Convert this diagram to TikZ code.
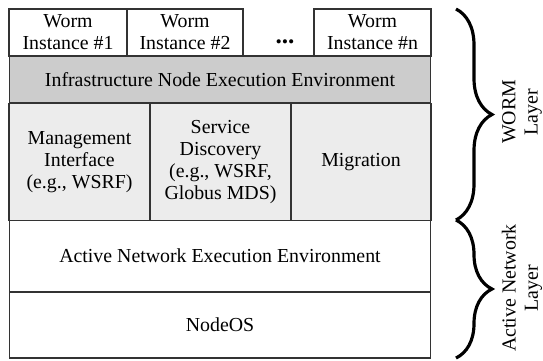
\documentclass[tikz,border=0pt]{standalone}
\usepackage{fontspec}
\setmainfont{Liberation Serif}
\usetikzlibrary{decorations.pathreplacing}
\definecolor{infragray}{HTML}{CCCCCC}
\definecolor{servgray}{HTML}{ECECEC}
\tikzset{
	layerbox/.style={draw=black!80,line width=0.6pt,inner sep=0pt,align=center,font=\fontsize{11.3}{12.6}\selectfont},
	layerbrace/.style={decorate,decoration={brace,amplitude=0.72cm},line width=1.8pt},
	layertext/.style={rotate=90,align=center,font=\fontsize{11.3}{12.6}\selectfont}
}
\begin{document}
\begin{tikzpicture}[x=0.02cm,y=-0.02cm]
	\useasboundingbox (0,0) rectangle (543,360);
	% worm instances
	\node[layerbox,minimum width=2.36cm,minimum height=0.94cm] (w1) at (68,32.5) {Worm\\Instance \#1};
	\node[layerbox,minimum width=2.32cm,minimum height=0.94cm] (w2) at (185,32.5) {Worm\\Instance \#2};
	\node[layerbox,minimum width=2.34cm,minimum height=0.94cm] (wn) at (372.5,32.5) {Worm\\Instance \#n};
	\node[font=\Large\bfseries] (dots) at (285,42) {...};
	% execution environments
	\node[layerbox,fill=infragray,minimum width=8.44cm,minimum height=0.94cm] (infra) at (220,79.5) {Infrastructure Node Execution Environment};
	\node[layerbox,fill=servgray,minimum width=2.82cm,minimum height=2.34cm] (mgmt) at (79.5,162) {Management\\Interface\\(e.g., WSRF)};
	\node[layerbox,fill=servgray,minimum width=2.82cm,minimum height=2.34cm] (disc) at (220.5,162) {Service\\Discovery\\(e.g., WSRF,\\Globus MDS)};
	\node[layerbox,fill=servgray,minimum width=2.8cm,minimum height=2.34cm] (migr) at (361,162) {Migration};
	\node[layerbox,minimum width=8.44cm,minimum height=1.42cm] (aee) at (220,256) {Active Network Execution Environment};
	\node[layerbox,minimum width=8.44cm,minimum height=1.32cm] (nos) at (220,325) {NodeOS};
	% layers
	\coordinate (wtop) at (456,9);
	\coordinate (wbot) at (456,220);
	\coordinate (abot) at (456,358);
	\draw[layerbrace] (wtop) -- (wbot);
	\draw[layerbrace] (wbot) -- (abot);
	\node[layertext] (wl) at (522,112) {WORM\\Layer};
	\node[layertext] (al) at (522,288) {Active Network\\Layer};
\end{tikzpicture}
\end{document}
